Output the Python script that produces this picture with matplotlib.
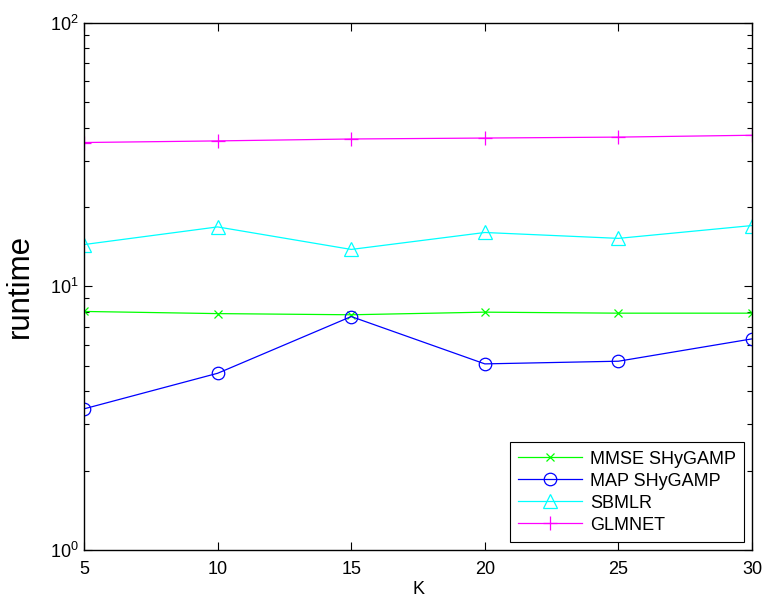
import matplotlib
matplotlib.use("Agg")
import matplotlib.pyplot as plt
from matplotlib.ticker import LogLocator, NullFormatter

plt.rcParams['font.family'] = ['Liberation Sans', 'DejaVu Sans']
plt.rcParams['mathtext.fontset'] = 'custom'
plt.rcParams['mathtext.rm'] = 'Liberation Sans'
plt.rcParams['mathtext.it'] = 'Liberation Sans:italic'
plt.rcParams['mathtext.bf'] = 'Liberation Sans:bold'

K = [5, 10, 15, 20, 25, 30]
mmse_shygamp = [8.03, 7.88, 7.80, 7.98, 7.91, 7.91]
map_shygamp = [3.43, 4.68, 7.68, 5.08, 5.20, 6.32]
sbmlr = [14.4, 16.8, 13.8, 16.0, 15.2, 17.0]
glmnet = [35.1, 35.6, 36.2, 36.5, 36.8, 37.4]

fig = plt.figure(figsize=(7.67, 6.0), dpi=100)
ax = fig.add_axes([0.1095, 0.0833, 0.871, 0.879])

lw = 0.9
ax.plot(K, mmse_shygamp, color='#00ff00', marker='x', markersize=6, lw=lw,
        markeredgewidth=0.9, label='MMSE SHyGAMP')
ax.plot(K, map_shygamp, color='#0000ff', marker='o', markersize=9, lw=lw,
        markerfacecolor='none', markeredgewidth=0.9, label='MAP SHyGAMP')
ax.plot(K, sbmlr, color='#00ffff', marker='^', markersize=9.5, lw=lw,
        markerfacecolor='none', markeredgewidth=0.9, label='SBMLR')
ax.plot(K, glmnet, color='#ff00ff', marker='+', markersize=10, lw=lw,
        markeredgewidth=0.9, label='GLMNET')

ax.set_yscale('log')
ax.set_ylim(1, 100)
ax.set_xlim(5, 30)
ax.set_xticks(K)
ax.yaxis.set_major_locator(LogLocator(base=10, numticks=5))
ax.yaxis.set_minor_locator(LogLocator(base=10, subs=range(2, 10), numticks=20))
ax.yaxis.set_minor_formatter(NullFormatter())

ax.tick_params(which='both', direction='in', top=True, right=True,
               labelsize=13, width=0.8)
ax.tick_params(axis='x', pad=8)
ax.tick_params(axis='y', pad=4)
ax.tick_params(which='major', length=6)
ax.tick_params(which='minor', length=3.5)
for s in ax.spines.values():
    s.set_linewidth(1.0)

ax.set_xlabel('K', fontsize=13, labelpad=2)
ax.set_ylabel('runtime', fontsize=22.5, labelpad=11)

leg = ax.legend(loc='lower right', fontsize=13, fancybox=False, framealpha=1,
                edgecolor='black', handlelength=3.5, borderpad=0.45,
                labelspacing=0.28, borderaxespad=0.45, handletextpad=0.45)
leg.get_frame().set_linewidth(0.8)

fig.savefig('out.png', dpi=100)
